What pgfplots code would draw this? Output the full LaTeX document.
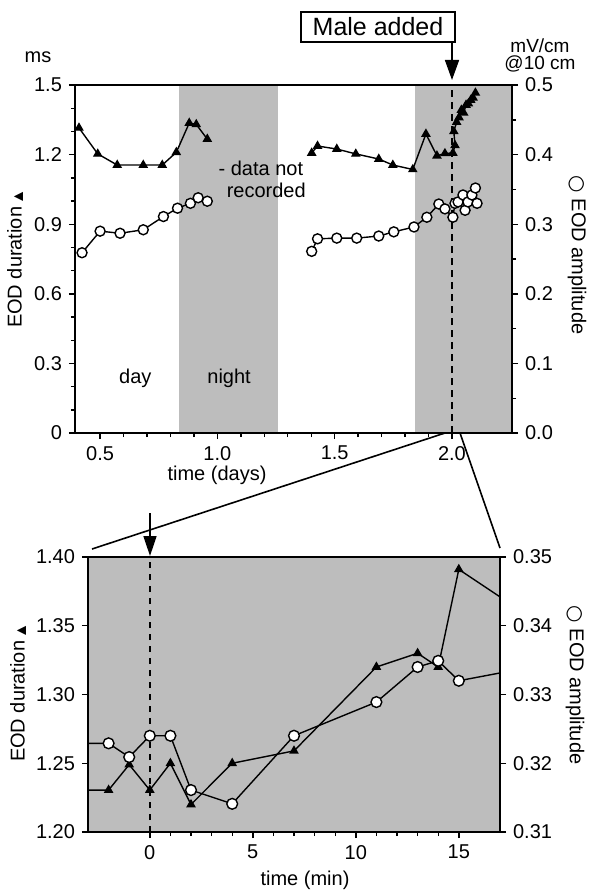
\documentclass[border=0pt]{standalone}
\usepackage{fontspec}
\setmainfont{Liberation Sans}
\newfontfamily\sym{DejaVu Sans}
\usepackage{pgfplots}
\pgfplotsset{compat=1.18}
\usetikzlibrary{arrows.meta}
\definecolor{bggray}{HTML}{BDBDBD}

\newcommand{\lab}{\fontsize{10}{12}\selectfont}
\newcommand{\tri}{{\sym\fontsize{6}{6}\selectfont ▲}}
\newcommand{\circl}{{\sym ○}}

\pgfplotsset{
 base/.style={scale only axis, clip=true,
   tick align=outside, tick style={black,line width=0.7pt},
   major tick length=3pt, minor tick length=2pt,
   axis line style={line width=0.9pt},
   tick label style={font=\lab},
   /pgf/number format/assume math mode=true},
 tri/.style={black, line width=0.7pt, mark=triangle*, mark size=2.1pt, mark options={fill=black}},
 circ/.style={black, line width=0.7pt, mark=*, mark size=2.5pt, mark options={fill=white, line width=0.7pt}},
}

\begin{document}
\begin{tikzpicture}
\useasboundingbox (0,0) rectangle (296pt,-446.5pt);

% ---------- upper panel: days ----------
\begin{axis}[base, axis on top, at={(37.5pt,-216.5pt)}, anchor=south west,
 width=218.5pt, height=174pt,
 xmin=0.393, xmax=2.256, ymin=0, ymax=1.5,
 xtick={0.5,1,1.5,2}, minor x tick num=4,
 ytick={0,0.3,0.6,0.9,1.2,1.5}, minor y tick num=2,
 xtick pos=left, ytick pos=left,
 xticklabel style={/pgf/number format/.cd,fixed,fixed zerofill,precision=1},
 yticklabel style={/pgf/number format/.cd,fixed,precision=1},
]
\fill[bggray] (axis cs:0.838,0) rectangle (axis cs:1.26,1.5);
\fill[bggray] (axis cs:1.842,0) rectangle (axis cs:2.256,1.5);
\draw[dash pattern=on 3.5pt off 2.5pt, line width=1pt] (axis cs:2,0) -- (axis cs:2,1.5);
\addplot[tri] coordinates {
 (0.41,1.315) (0.49,1.203) (0.573,1.155) (0.684,1.155) (0.765,1.155)
 (0.825,1.21) (0.88,1.336) (0.91,1.33) (0.957,1.267)
};
\addplot[tri] coordinates {
 (1.402,1.207) (1.427,1.237) (1.509,1.224) (1.590,1.203) (1.688,1.181)
 (1.748,1.155) (1.833,1.136) (1.889,1.289) (1.936,1.195) (1.970,1.205)
 (2.004,1.207) (2.013,1.240) (2.008,1.300) (2.020,1.340) (2.030,1.360)
 (2.040,1.392) (2.050,1.380) (2.060,1.414) (2.070,1.420) (2.080,1.435)
 (2.090,1.445) (2.100,1.466)
};
\node[font=\lab] at (axis cs:0.65,0.237) {day};
\node[font=\lab] at (axis cs:1.05,0.237) {night};
\node[font=\lab, anchor=west] at (axis cs:0.975,1.142) {- data not};
\node[font=\lab, anchor=west] at (axis cs:1.01,1.047) {recorded};
\end{axis}

\begin{axis}[base, at={(37.5pt,-216.5pt)}, anchor=south west,
 width=218.5pt, height=174pt,
 xmin=0.393, xmax=2.256, ymin=0, ymax=0.5,
 axis x line=none, axis y line*=right, ytick pos=right,
 ytick={0,0.1,0.2,0.3,0.4,0.5}, minor y tick num=1,
 yticklabel style={/pgf/number format/.cd,fixed,fixed zerofill,precision=1},
]
\addplot[circ] coordinates {
 (0.423,0.259) (0.5,0.290) (0.585,0.287) (0.684,0.292) (0.77,0.311)
 (0.83,0.323) (0.885,0.330) (0.918,0.338) (0.957,0.333)
};
\addplot[circ] coordinates {
 (1.402,0.261) (1.427,0.279) (1.509,0.280) (1.594,0.280) (1.688,0.283)
 (1.752,0.289) (1.838,0.296) (1.893,0.310) (1.944,0.329) (1.970,0.322)
 (2.004,0.310) (2.013,0.330) (2.026,0.332) (2.047,0.342) (2.056,0.320)
 (2.068,0.332) (2.085,0.342) (2.100,0.352) (2.107,0.330)
};
\end{axis}

% ---------- lower panel: minutes ----------
\begin{axis}[base, axis on top, at={(44pt,-416pt)}, anchor=south west,
 width=206pt, height=137.5pt,
 axis background/.style={fill=bggray},
 xmin=-3, xmax=17, ymin=1.2, ymax=1.4,
 xtick={0,5,10,15}, minor x tick num=4,
 ytick={1.2,1.25,1.3,1.35,1.4},
 xtick pos=left, ytick pos=left,
 yticklabel style={/pgf/number format/.cd,fixed,fixed zerofill,precision=2},
]
\draw[dash pattern=on 3pt off 3pt, line width=1pt] (axis cs:0,1.2) -- (axis cs:0,1.4);
\addplot[tri, mark indices={1,2,3,4,5,6,7,8,9,10,11}] coordinates {
 (-4,1.2305) (-2,1.2305) (-1,1.249) (0,1.2305) (1,1.25) (2,1.22) (4,1.25)
 (7,1.259) (11,1.32) (13,1.33) (14,1.32) (15,1.391) (18,1.361)
};
\end{axis}

\begin{axis}[base, at={(44pt,-416pt)}, anchor=south west,
 width=206pt, height=137.5pt,
 xmin=-3, xmax=17, ymin=0.31, ymax=0.35,
 axis x line=none, axis y line*=right, ytick pos=right,
 ytick={0.31,0.32,0.33,0.34,0.35},
 yticklabel style={/pgf/number format/.cd,fixed,fixed zerofill,precision=2},
]
\addplot[circ, mark size=2.7pt, mark indices={1,2,3,4,5,6,7,8,9,10,11}] coordinates {
 (-4,0.3229) (-2,0.3229) (-1,0.3209) (0,0.324) (1,0.324) (2,0.3161) (4,0.3141)
 (7,0.324) (11,0.3289) (13,0.334) (14,0.3349) (15,0.332) (18,0.3337)
};
\end{axis}

% ---------- labels and annotations ----------
\node[font=\lab] at (19pt,-28.5pt) {ms};
\node[font=\fontsize{9.5}{8.5}\selectfont, align=center, inner sep=0pt] at (270pt,-27.5pt) {mV/cm\\@10 cm};
\node[font=\lab, rotate=90] at (7.5pt,-130pt) {EOD duration \tri};
\node[font=\lab, rotate=-90] at (288.5pt,-127.5pt) {\circl\ EOD amplitude};
\node[font=\lab] at (108.5pt,-237.5pt) {time (days)};
\node[font=\lab, rotate=90] at (9pt,-347pt) {EOD duration \tri};
\node[font=\lab, rotate=-90] at (287.5pt,-342.5pt) {\circl\ EOD amplitude};
\node[font=\lab] at (152.5pt,-440pt) {time (min)};

\node[draw, line width=0.8pt, inner sep=0pt, minimum width=77pt, minimum height=15pt,
 font=\fontsize{12.5}{13}\selectfont] at (189pt,-13.5pt) {Male added};
\draw[line width=0.8pt, -{Triangle[length=10pt,width=7pt]}] (226pt,-21pt) -- (226pt,-40pt);
\draw[line width=0.8pt, -{Triangle[length=10pt,width=6.5pt]}] (75pt,-256.5pt) -- (75pt,-278pt);

\draw[line width=0.8pt] (46pt,-274.5pt) -- (222.5pt,-216.5pt);
\draw[line width=0.8pt] (230pt,-216.5pt) -- (250pt,-274pt);
\end{tikzpicture}
\end{document}
